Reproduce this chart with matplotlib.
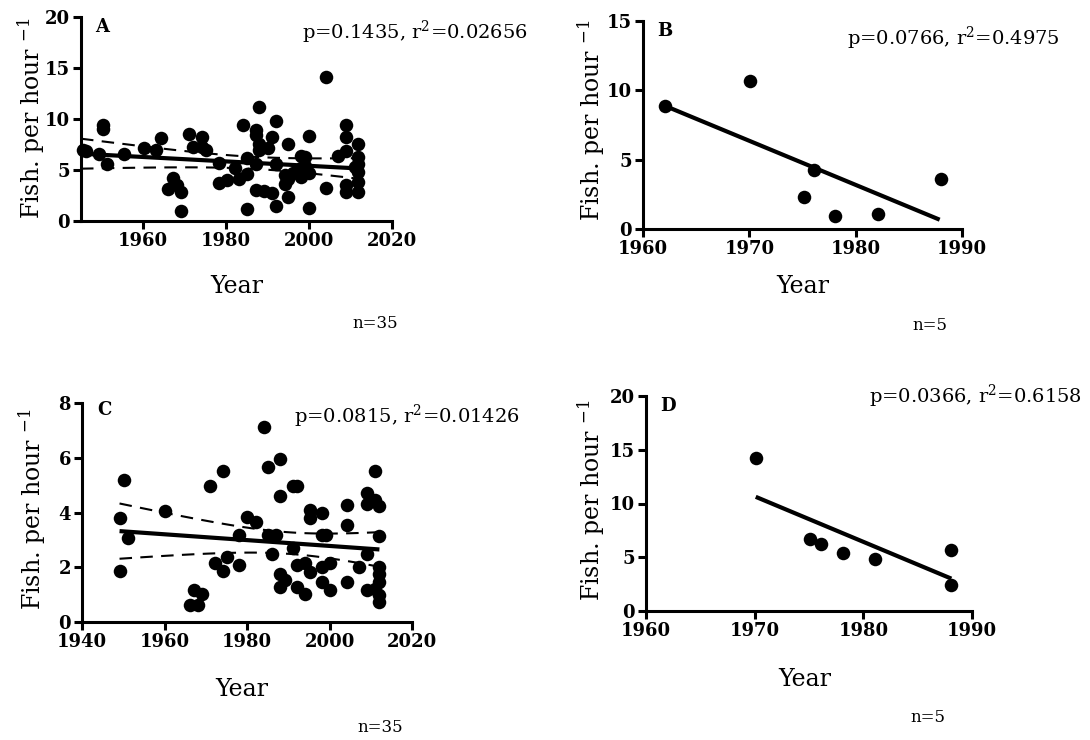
import numpy as np
import matplotlib
matplotlib.use("Agg")
import matplotlib.pyplot as plt

plt.rcParams['font.family'] = ['DejaVu Serif']
plt.rcParams['mathtext.fontset'] = 'dejavuserif'

# ---------------- data ----------------
a_year = [1945.5, 1946.3, 1949.3, 1950.3, 1950.3, 1951.3, 1955.3, 1960.2, 1963.1, 1964.2,
          1966.1, 1967.1, 1968.2, 1969.2, 1969.2, 1971.1, 1972.1, 1974.1, 1974.1, 1975.2,
          1978.2, 1978.2, 1980.1, 1982.1, 1983.1, 1984.1, 1985.1, 1985.1, 1985.1, 1987.1,
          1987.1, 1987.1, 1987.1, 1988.0, 1988.0, 1988.0, 1989.1, 1990.0, 1991.1, 1991.1,
          1992.0, 1992.0, 1992.0, 1994.1, 1994.1, 1995.0, 1995.0, 1995.0, 1996.1, 1998.1,
          1998.1, 1998.1, 1999.0, 1999.0, 2000.1, 2000.1, 2000.1, 2004.0, 2004.0, 2006.9,
          2008.9, 2008.9, 2008.9, 2008.9, 2008.9, 2011.9, 2011.9, 2011.9, 2011.9, 2011.9,
          2011.9, 2011.0]
a_fish = [7.0, 6.9, 6.6, 9.4, 9.0, 5.6, 6.6, 7.2, 7.0, 8.1,
          3.1, 4.2, 3.5, 2.8, 1.0, 8.5, 7.3, 8.2, 7.3, 7.0,
          5.7, 3.75, 4.0, 5.2, 4.1, 9.4, 4.6, 6.2, 1.2, 8.9,
          8.4, 3.0, 5.6, 11.2, 7.5, 7.0, 2.9, 7.2, 8.2, 2.7,
          9.8, 5.6, 1.5, 4.5, 3.6, 7.5, 2.4, 4.1, 4.7, 4.3,
          6.4, 5.2, 6.3, 5.4, 8.3, 1.3, 4.7, 14.1, 3.2, 6.4,
          9.4, 8.2, 6.9, 3.5, 2.8, 7.5, 6.3, 5.6, 3.85, 2.8,
          4.8, 5.3]

b_year = [1962.1, 1970.1, 1975.1, 1976.1, 1978.1, 1982.1, 1988.0]
b_fish = [8.87, 10.69, 2.3, 4.22, 0.91, 1.1, 3.6]

c_year = [1949.1, 1949.1, 1950.1, 1951.1, 1960.0, 1966.1, 1967.1, 1968.1, 1969.1, 1971.1,
          1972.2, 1974.2, 1974.2, 1975.2, 1978.1, 1978.1, 1980.1, 1982.2, 1984.1, 1985.1,
          1985.1, 1986.1, 1987.1, 1988.1, 1988.1, 1988.1, 1988.1, 1989.1, 1991.2, 1992.1,
          1991.2, 1992.1, 1992.1, 1994.1, 1994.1, 1995.2, 1995.2, 1995.2, 1998.2, 1998.2,
          1998.2, 1998.2, 1999.2, 2000.2, 2000.2, 2004.2, 2004.2, 2004.2, 2007.2, 2009.1,
          2009.1, 2009.1, 2009.1, 2011.1, 2011.1, 2012.1, 2012.1, 2012.1, 2012.1, 2012.1,
          2012.1, 2012.1, 2011.1]
c_fish = [3.8, 1.87, 5.2, 3.08, 4.07, 0.63, 1.16, 0.63, 1.04, 4.97,
          2.16, 5.52, 1.87, 2.36, 2.08, 3.17, 3.85, 3.64, 7.12, 5.68,
          3.17, 2.48, 3.17, 5.96, 4.6, 1.77, 1.28, 1.53, 4.97, 4.97,
          2.69, 2.08, 1.28, 2.16, 1.01, 1.83, 4.09, 3.79, 3.97, 3.17,
          2.01, 1.47, 3.17, 2.16, 1.18, 4.27, 3.54, 1.47, 2.01, 4.73,
          4.31, 2.48, 1.18, 5.52, 4.46, 4.24, 3.15, 2.01, 1.77, 1.47,
          0.98, 0.73, 1.22]

d_year = [1970.1, 1975.1, 1976.1, 1978.1, 1981.1, 1988.1, 1988.1]
d_fish = [14.19, 6.74, 6.27, 5.40, 4.88, 5.65, 2.39]

# fitted lines (start/end year, start/end value)
a_fit = [1945.0, 2012.0, 6.6, 5.15]
b_fit = [1962.1, 1987.9, 8.87, 0.67]
c_fit = [1949.1, 2012.1, 3.32, 2.65]
d_fit = [1970.1, 1988.1, 10.62, 3.01]

stats = ["p=0.1435, r$^{\\mathregular{2}}$=0.02656",
         "p=0.0766, r$^{\\mathregular{2}}$=0.4975",
         "p=0.0815, r$^{\\mathregular{2}}$=0.01426",
         "p=0.0366, r$^{\\mathregular{2}}$=0.6158"]
panel_labels = ["A", "B", "C", "D"]
n_labels = ["n=35", "n=5", "n=35", "n=5"]

W, H = 1090, 740
fig = plt.figure(figsize=(W / 100, H / 100), dpi=100)


def ax_px(l, t, r, b):
    return fig.add_axes([l / W, 1 - b / H, (r - l) / W, (b - t) / H])


def ci_half(x, y, xs, tcrit=1.99):
    x = np.asarray(x); y = np.asarray(y)
    n = len(x)
    slope, icpt = np.polyfit(x, y, 1)
    res = y - (slope * x + icpt)
    s = np.sqrt(np.sum(res ** 2) / (n - 2))
    se = s * np.sqrt(1 / n + (xs - x.mean()) ** 2 / np.sum((x - x.mean()) ** 2))
    return se * tcrit


def style(ax, xlim, xticks, ylim, yticks):
    ax.set_xlim(*xlim); ax.set_ylim(*ylim)
    ax.set_xticks(xticks); ax.set_yticks(yticks)
    for s in ['top', 'right']:
        ax.spines[s].set_visible(False)
    for s in ['left', 'bottom']:
        ax.spines[s].set_linewidth(2.2)
    ax.tick_params(width=2.2, length=6, labelsize=13, pad=2)
    for lab in ax.get_xticklabels() + ax.get_yticklabels():
        lab.set_fontweight('bold')
    ax.patch.set_alpha(0)


axA = ax_px(81, 17, 392, 221)
axB = ax_px(643, 21, 962, 229)
axC = ax_px(82, 403, 412, 622)
axD = ax_px(646, 396, 972, 611)

panels = [
    (axA, a_year, a_fish, a_fit, True, (1945, 2020), [1960, 1980, 2000, 2020], (0, 20), [0, 5, 10, 15, 20]),
    (axB, b_year, b_fish, b_fit, False, (1960, 1990), [1960, 1970, 1980, 1990], (0, 15), [0, 5, 10, 15]),
    (axC, c_year, c_fish, c_fit, True, (1940, 2020), [1940, 1960, 1980, 2000, 2020], (0, 8), [0, 2, 4, 6, 8]),
    (axD, d_year, d_fish, d_fit, False, (1960, 1990), [1960, 1970, 1980, 1990], (0, 20), [0, 5, 10, 15, 20]),
]

for ax, xs, ys, fit, band, xlim, xt, ylim, yt in panels:
    ax.scatter(xs, ys, s=95, color='black', zorder=3, clip_on=False, linewidths=0)
    ax.plot(fit[:2], fit[2:], color='black', lw=3, zorder=4, solid_capstyle='butt')
    if band:
        xx = np.linspace(fit[0], fit[1], 100)
        half = ci_half(xs, ys, xx)
        line = fit[2] + (fit[3] - fit[2]) * (xx - fit[0]) / (fit[1] - fit[0])
        ax.plot(xx, line + half, color='black', lw=1.5, ls=(0, (6, 4)), zorder=4)
        ax.plot(xx, line - half, color='black', lw=1.5, ls=(0, (6, 4)), zorder=4)
    style(ax, xlim, xt, ylim, yt)


def ftext(x, y, s, **kw):
    fig.text(x / W, 1 - y / H, s, **kw)


stat_pos = [(528, 32), (1060, 38), (520, 416), (1082, 396)]
plab_pos = [(95, 27), (657, 31), (97, 410), (660, 406)]
ylab_pos = [(31, 118), (591, 120), (32, 509), (591, 500)]
year_pos = [(237, 286), (803, 287), (242, 690), (805, 679)]
n_pos = [(375, 323), (930, 325), (380, 728), (928, 718)]

for i in range(4):
    ftext(*stat_pos[i], stats[i], fontsize=14, ha='right', va='center')
    ftext(*plab_pos[i], panel_labels[i], fontsize=13, fontweight='bold', ha='left', va='center')
    ftext(*ylab_pos[i], "Fish. per hour $^{\\mathregular{-1}}$", fontsize=17, rotation=90,
          ha='center', va='center')
    ftext(*year_pos[i], "Year", fontsize=17, ha='center', va='center')
    ftext(*n_pos[i], n_labels[i], fontsize=12, ha='center', va='center')

fig.savefig("out.png", dpi=100, facecolor='white')
